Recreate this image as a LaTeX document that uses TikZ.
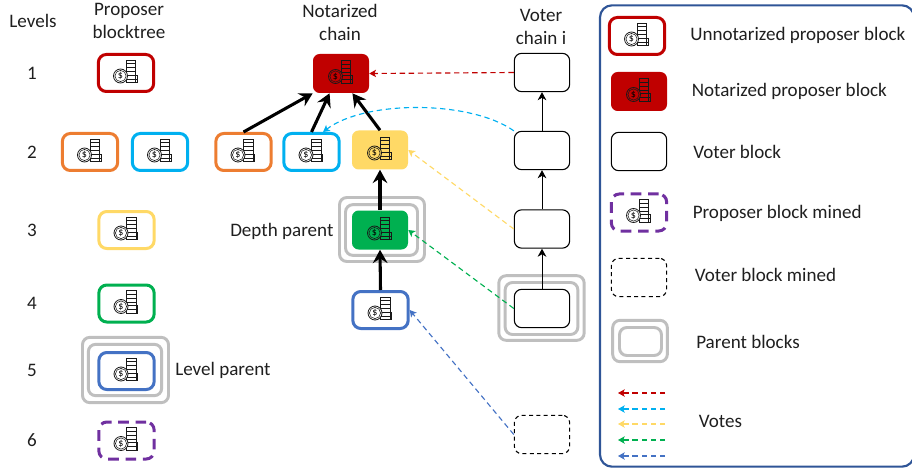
\documentclass[tikz,border=0pt]{standalone}
\usepackage{fontspec}
\setmainfont{Carlito}
\usetikzlibrary{arrows.meta,calc}
\definecolor{cred}{HTML}{C00000}
\definecolor{corange}{HTML}{ED7D31}
\definecolor{cblue}{HTML}{00B0F0}
\definecolor{cyellow}{HTML}{FFD966}
\definecolor{cgreen}{HTML}{00B050}
\definecolor{cdblue}{HTML}{4472C4}
\definecolor{cpurple}{HTML}{7030A0}
\definecolor{cgray}{HTML}{BFBFBF}
\definecolor{cframe}{HTML}{2F5597}
\tikzset{
  x=0.75pt,y=-0.75pt,
  txt/.style={font=\fontsize{14.3}{17.25}\selectfont,text=black!88,inner sep=0,align=center},
  ltxt/.style={txt,anchor=west},
  prop/.style={draw=#1,line width=2.25pt,rounded corners=6pt,minimum width=41.5pt,minimum height=27.75pt,inner sep=0,fill=white},
  mined/.style={prop=cpurple,dash pattern=on 8pt off 5pt},
  solidblk/.style={fill=#1,draw=none,rounded corners=5pt,minimum width=42pt,minimum height=29.25pt,inner sep=0},
  voter/.style={draw=black,line width=0.8pt,rounded corners=5.5pt,minimum width=41.5pt,minimum height=28.75pt,inner sep=0,fill=white},
  votermined/.style={voter,dash pattern=on 3pt off 2.5pt},
  ring/.style={draw=cgray,line width=2.2pt,rounded corners=5.5pt,inner sep=0,fill=white},
  thickarr/.style={line width=2.3pt,-{Stealth[length=10pt,width=11pt,inset=3.5pt]}},
  thinarr/.style={line width=0.75pt,-{Stealth[length=6pt,width=6.5pt,inset=1.8pt]}},
  vote/.style={draw=#1,line width=0.85pt,dash pattern=on 4pt off 2.8pt,-{Stealth[length=5pt,width=5.5pt,inset=1.2pt]}},
  pics/coins/.style={code={
    \foreach \yy in {-13,-9.2,-5.4,-1.6,2.2,6}{
      \draw[line width=0.55pt,black!90] (0,\yy) rectangle (9.5,\yy+3.8);
    }
    \foreach \yy in {2.2,6}{
      \draw[line width=0.55pt,black!90] (9.5,\yy) rectangle (11,\yy+3.8);
    }
    \draw[line width=0.6pt,black!90,fill=#1] (-5.5,3) circle (7);
    \draw[line width=0.4pt,black!90] (-5.5,3) circle (5.6);
    \node (sign) at (-5.5,3) [inner sep=0,font=\fontsize{7.5}{8}\selectfont,text=black] {\$};
  }}
}
\begin{document}
\begin{tikzpicture}
\useasboundingbox (0,0) rectangle (912,470);

% headings
\node[txt] (hlev) at (33,21) {Levels};
\node[txt] (hprop) at (129,20.5) {Proposer\\blocktree};
\node[txt] (hnot) at (340,22) {Notarized\\chain};
\node[txt] (hvot) at (541,26.5) {Voter\\chain i};
\foreach \n/\yy in {1/73,2/152,3/230,4/303,5/370,6/440}{
  \node[txt] (lev\n) at (32,\yy) {\n};
}

% proposer blocktree
\node[ring,minimum width=64.5pt,minimum height=49pt] (lpo) at (125.5,370) {};
\node[ring,minimum width=55pt,minimum height=38.5pt] (lpi) at (125,370) {};
\node[prop=cred] (t1) at (126,73) {};
\node[prop=corange] (t2a) at (90,152) {};
\node[prop=cblue] (t2b) at (160,152) {};
\node[prop=cyellow] (t3) at (126.5,230) {};
\node[prop=cgreen] (t4) at (126.5,303.5) {};
\node[prop=cdblue] (t5) at (126.5,371) {};
\node[prop=cpurple,mined] (t6) at (126.5,440.5) {};
\foreach \a/\b in {126/73,90/152,160/152,126.5/230,126.5/303.5,126.5/371,126.5/440.5}{
  \pic at (\a,\b) {coins=white};
}
\node[ltxt] (llp) at (175,370) {Level parent};
\node[ltxt] (ldp) at (230,231) {Depth parent};

% notarized chain
\node[ring,minimum width=63.75pt,minimum height=48pt] (dpo) at (382,229.5) {};
\node[ring,minimum width=54pt,minimum height=38pt] (dpi) at (381.5,230) {};
\node[solidblk=cred] (n1) at (341,73.5) {};
\node[prop=corange] (n2a) at (243.5,152) {};
\node[prop=cblue] (n2b) at (311.5,152) {};
\node[solidblk=cyellow] (n2c) at (380,150) {};
\node[solidblk=cgreen] (n3) at (380,230) {};
\node[prop=cdblue] (n4) at (380.5,310) {};
\pic at (341,73.5) {coins=cred};
\pic at (243.5,152) {coins=white};
\pic at (311.5,152) {coins=white};
\pic at (380,150) {coins=cyellow};
\pic at (380,230) {coins=cgreen};
\pic at (380.5,310) {coins=white};
\draw[thickarr] (n2a.north) -- (n1.south west);
\draw[thickarr] (n2b.north) -- (n1.240);
\draw[thickarr] (n2c.north) -- (n1.300);
\draw[thickarr] (n3.north) -- (n2c.south);
\draw[thickarr] (n4.north) -- (n3.south);

% voter chain
\node[ring,minimum width=64pt,minimum height=48.5pt] (vpo) at (541.5,308) {};
\node[ring,minimum width=54.5pt,minimum height=39pt] (vpi) at (541.5,308.5) {};
\node[voter] (v1) at (542,72.5) {};
\node[voter] (v2) at (542,150.5) {};
\node[voter] (v3) at (542,229) {};
\node[voter] (v4) at (542,308.5) {};
\node[votermined] (v5) at (542,434.5) {};
\draw[thinarr] (v2.north) -- (v1.south);
\draw[thinarr] (v3.north) -- (v2.south);
\draw[thinarr] (v4.north) -- (v3.south);

% votes
\draw[vote=cred] (v1.west) -- (n1.east);
\draw[vote=cblue] (v2.north west) .. controls (470,100) and (365,100) .. (n2b.60);
\draw[vote=cyellow] (v3.west) -- (n2c.east);
\draw[vote=cgreen] (v4.west) -- (n3.east);
\draw[vote=cdblue] (v5.west) -- (n4.east);

% legend
\node[draw=cframe,line width=1.6pt,rounded corners=9pt,minimum width=235.5pt,minimum height=346pt,inner sep=0] (frame) at (757,236) {};
\node[prop=cred] (k1) at (637,36) {};
\node[solidblk=cred] (k2) at (639,91.5) {};
\node[voter] (k3) at (639,151.5) {};
\node[prop=cpurple,mined] (k4) at (639,212.5) {};
\node[votermined] (k5) at (639,277.5) {};
\node[ring,minimum width=41pt,minimum height=31pt] (k6o) at (640,341) {};
\node[ring,minimum width=31.5pt,minimum height=21pt] (k6i) at (640.5,341.5) {};
\pic at (637,36) {coins=white};
\pic at (639,91.5) {coins=cred};
\pic at (639,212.5) {coins=white};
\node[ltxt] (t-a) at (690,35) {Unnotarized proposer block};
\node[ltxt] (t-b) at (691.5,91) {Notarized proposer block};
\node[ltxt] (t-c) at (693,152) {Voter block};
\node[ltxt] (t-d) at (692.5,213) {Proposer block mined};
\node[ltxt] (t-e) at (694.5,275) {Voter block mined};
\node[ltxt] (t-f) at (696,342) {Parent blocks};
\node[ltxt] (t-g) at (698.5,421) {Votes};
\foreach \c/\yy [count=\i] in {cred/393,cblue/409,cyellow/424,cgreen/440,cdblue/456}{
  \coordinate (vs\i) at (665,\yy);
  \coordinate (ve\i) at (618,\yy);
  \draw[vote=\c] (vs\i) -- (ve\i);
}
\end{tikzpicture}
\end{document}
